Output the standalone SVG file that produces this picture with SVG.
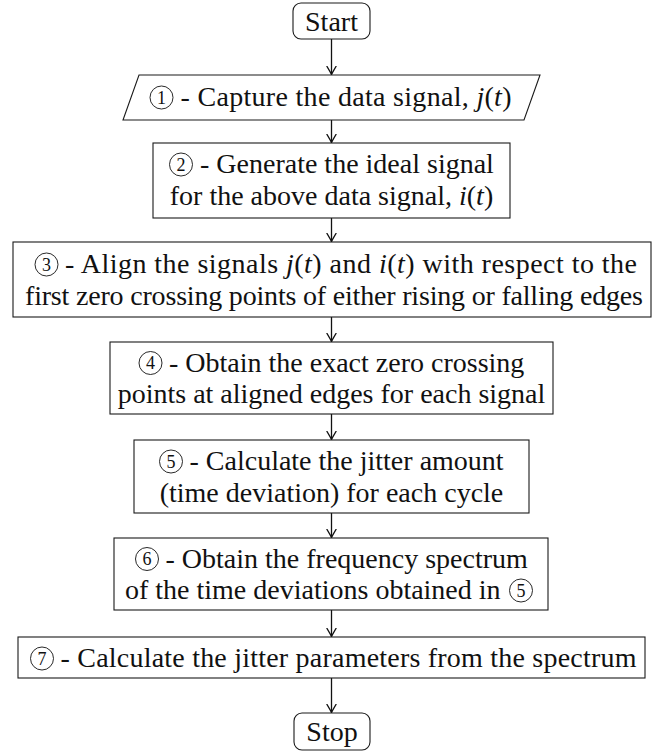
<svg xmlns="http://www.w3.org/2000/svg" width="660" height="752" viewBox="0 0 660 752">
  <style>
    .box { fill: #ffffff; stroke: #1a1a1a; stroke-width: 1.1; }
    text { font-family: 'Liberation Serif', 'Times New Roman', Times, serif; fill: #111111; }
    .lbl { font-size: 28px; }
    .c { text-anchor: middle; }
    .m { font-style: italic; }
    .ring { fill: none; stroke: #111111; stroke-width: 0.9; }
    .num { font-size: 18px; text-anchor: middle; }
    .edge { fill: none; stroke: #111111; stroke-width: 1.3; marker-end: url(#tip); }
  </style>
  <defs>
    <marker id="tip" viewBox="-9 -6 11 12" refX="0" refY="0" markerWidth="11" markerHeight="12" markerUnits="userSpaceOnUse" orient="auto">
      <path d="M -8 -4.5 Q -2.5 -1.2 0 0 Q -2.5 1.2 -8 4.5" fill="none" stroke="#111111" stroke-width="1.4" stroke-linecap="round"/>
    </marker>
  </defs>
  <rect width="660" height="752" fill="#ffffff"/>

  <g id="connectors">
    <line class="edge" x1="331.5" y1="39" x2="331.5" y2="74.5"/>
    <line class="edge" x1="331.5" y1="120" x2="331.5" y2="142.5"/>
    <line class="edge" x1="331.5" y1="218" x2="331.5" y2="241.5"/>
    <line class="edge" x1="331.5" y1="317" x2="331.5" y2="341.5"/>
    <line class="edge" x1="331.5" y1="414" x2="331.5" y2="439.5"/>
    <line class="edge" x1="331.5" y1="513" x2="331.5" y2="537.5"/>
    <line class="edge" x1="331.5" y1="610" x2="331.5" y2="636.5"/>
    <line class="edge" x1="331.5" y1="678" x2="331.5" y2="712.5"/>
  </g>

  <g id="start">
    <rect class="box" x="293" y="3" width="77" height="36" rx="8"/>
    <text class="lbl c" x="331.5" y="30.5">Start</text>
  </g>

  <g id="step1">
    <polygon class="box" points="139,75 540,75 524,120 123,120"/>
    <circle class="ring" cx="161.5" cy="97.5" r="11.5"/>
    <text class="num" x="161.5" y="103.5">1</text>
    <text class="lbl" x="180.5" y="106" textLength="331" lengthAdjust="spacing">- Capture the data signal, <tspan class="m">j</tspan>(<tspan class="m">t</tspan>)</text>
  </g>

  <g id="step2">
    <rect class="box" x="153" y="143" width="357" height="75"/>
    <circle class="ring" cx="181" cy="164.5" r="11.5"/>
    <text class="num" x="181" y="170.5">2</text>
    <text class="lbl" x="200" y="173">- Generate the ideal signal</text>
    <text class="lbl c" x="331.5" y="204.5">for the above data signal, <tspan class="m">i</tspan>(<tspan class="m">t</tspan>)</text>
  </g>

  <g id="step3">
    <rect class="box" x="13" y="242" width="638" height="75"/>
    <circle class="ring" cx="46.5" cy="264.5" r="11.5"/>
    <text class="num" x="46.5" y="270.5">3</text>
    <text class="lbl" x="65" y="273" textLength="572" lengthAdjust="spacing">- Align the signals <tspan class="m">j</tspan>(<tspan class="m">t</tspan>) and <tspan class="m">i</tspan>(<tspan class="m">t</tspan>) with respect to the</text>
    <text class="lbl" x="25" y="304.5" textLength="618" lengthAdjust="spacing">first zero crossing points of either rising or falling edges</text>
  </g>

  <g id="step4">
    <rect class="box" x="110" y="342" width="443" height="72"/>
    <circle class="ring" cx="150.5" cy="363" r="11.5"/>
    <text class="num" x="150.5" y="369">4</text>
    <text class="lbl" x="169" y="371.5">- Obtain the exact zero crossing</text>
    <text class="lbl c" x="331.5" y="403">points at aligned edges for each signal</text>
  </g>

  <g id="step5">
    <rect class="box" x="134" y="440" width="395" height="73"/>
    <circle class="ring" cx="171" cy="461.5" r="11.5"/>
    <text class="num" x="171" y="467.5">5</text>
    <text class="lbl" x="189.5" y="470">- Calculate the jitter amount</text>
    <text class="lbl c" x="331.5" y="501.5">(time deviation) for each cycle</text>
  </g>

  <g id="step6">
    <rect class="box" x="114" y="538" width="434" height="72"/>
    <circle class="ring" cx="147" cy="559" r="11.5"/>
    <text class="num" x="147" y="565">6</text>
    <text class="lbl" x="165.5" y="567.5">- Obtain the frequency spectrum</text>
    <text class="lbl" x="125" y="599">of the time deviations obtained in</text>
    <circle class="ring" cx="521" cy="590.5" r="11.5"/>
    <text class="num" x="521" y="596.5">5</text>
  </g>

  <g id="step7">
    <rect class="box" x="18" y="637" width="627" height="41"/>
    <circle class="ring" cx="42" cy="658.5" r="11.5"/>
    <text class="num" x="42" y="664.5">7</text>
    <text class="lbl" x="60.5" y="667" textLength="576" lengthAdjust="spacing">- Calculate the jitter parameters from the spectrum</text>
  </g>

  <g id="stop">
    <rect class="box" x="294" y="713" width="76" height="37" rx="8"/>
    <text class="lbl c" x="332" y="741">Stop</text>
  </g>
</svg>
